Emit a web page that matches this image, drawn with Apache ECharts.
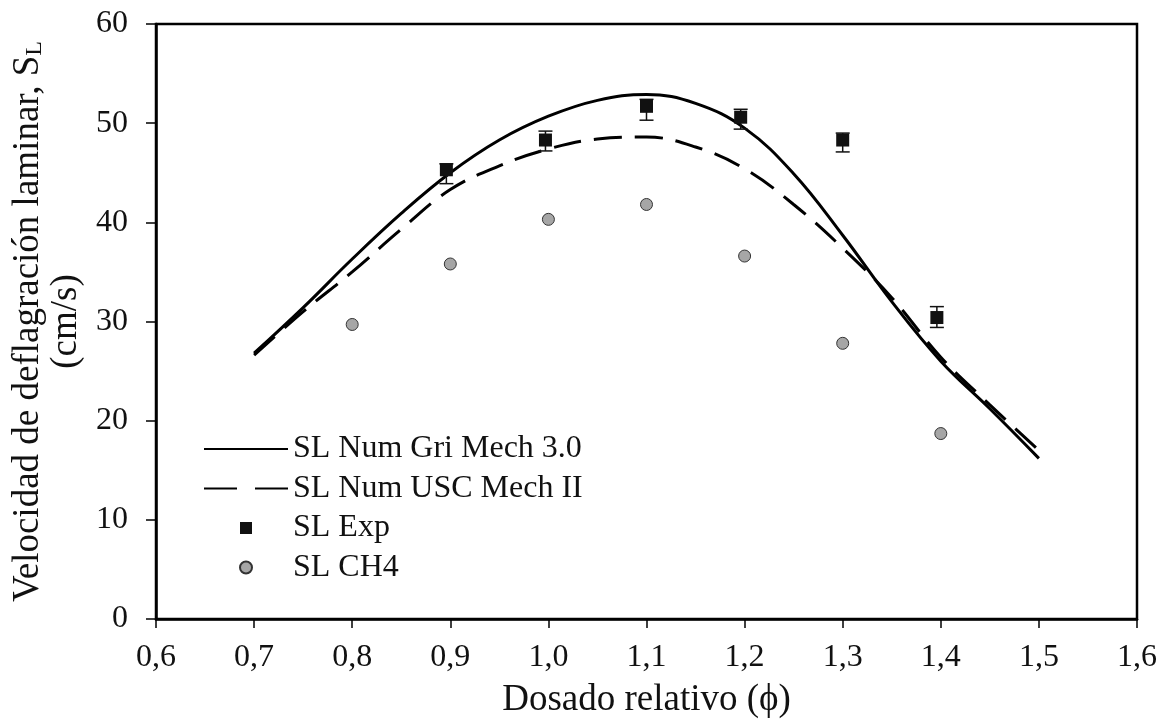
<!DOCTYPE html>
<html>
<head>
<meta charset="utf-8">
<script src="https://cdn.jsdelivr.net/npm/echarts@6/dist/echarts.min.js"></script>
<style>
  html, body { margin: 0; padding: 0; background: #fff; }
  #chart { width: 1163px; height: 726px; }
</style>
</head>
<body>
<div id="chart"></div>
<script>
// datos
const phiModel = [0.70, 0.75, 0.80, 0.85, 0.90, 0.95, 1.00, 1.05, 1.10, 1.15, 1.20, 1.25, 1.30, 1.35, 1.40, 1.45, 1.50]
const slGri = [26.8, 31.4, 36.3, 40.9, 45.0, 48.3, 50.7, 52.3, 52.9, 52.0, 49.5, 44.9, 38.7, 32.0, 26.0, 21.2, 16.2]
const slUsc = [26.6, 31.0, 35.0, 39.3, 43.3, 45.7, 47.4, 48.4, 48.6, 47.6, 45.4, 41.8, 37.4, 32.4, 26.4, 21.6, 17.0]

const phiExp = [0.896, 0.997, 1.100, 1.196, 1.300, 1.396]
const slExp = [45.3, 48.3, 51.7, 50.6, 48.3, 30.4]
const slExpLo = [43.9, 47.2, 50.3, 49.4, 47.1, 29.4]
const slExpHi = [45.9, 49.2, 52.4, 51.4, 49.0, 31.5]

const phiCh4 = [0.8, 0.9, 1.0, 1.1, 1.2, 1.3, 1.4]
const slCh4 = [29.7, 35.8, 40.3, 41.8, 36.6, 27.8, 18.7]

const serif = 'Liberation Serif'

;(function () {
  let mychart = echarts.init(document.getElementById('chart'))
  let zip = (xs, ys) => xs.map((x, i) => [x, ys[i]])
  let option = {
    animation: false,
    grid: {
      left: 156, right: 26, top: 24, bottom: 107,
      show: true, borderColor: '#000', borderWidth: 2.5,
      outerBoundsMode: 'none'
    },
    legend: {
      orient: 'vertical',
      left: 203,
      top: 431,
      padding: 0,
      itemWidth: 84,
      itemHeight: 12,
      itemGap: 3.5,
      textStyle: { fontFamily: serif, fontSize: 32, lineHeight: 36, color: '#111' },
      data: [
        { name: 'SL Num Gri Mech 3.0', itemStyle: { opacity: 0 } },
        { name: 'SL Num USC Mech II', itemStyle: { opacity: 0 }, lineStyle: { type: [33, 18] } },
        { name: 'SL Exp', icon: 'path://M0,0H10V10H0Z' },
        { name: 'SL CH4', icon: 'circle' }
      ]
    },
    xAxis: {
      type: 'value',
      min: 0.6,
      max: 1.6,
      interval: 0.1,
      name: 'Dosado relativo (ϕ)',
      nameLocation: 'middle',
      nameGap: 63,
      nameTextStyle: { fontFamily: serif, fontSize: 37, color: '#111' },
      axisLine: { lineStyle: { color: '#000', width: 2.5 } },
      axisTick: { show: true, inside: false, length: 9, lineStyle: { color: '#000', width: 1.5 } },
      axisLabel: {
        fontFamily: serif, fontSize: 32, color: '#111', margin: 23,
        formatter: v => v.toFixed(1).replace('.', ',')
      },
      splitLine: { show: false }
    },
    yAxis: {
      type: 'value',
      min: 0,
      max: 60,
      interval: 10,
      name: 'Velocidad de deflagración laminar, S{sub|L}\n(cm/s)',
      nameLocation: 'middle',
      nameRotate: 90,
      nameGap: 69,
      nameTextStyle: {
        fontFamily: serif, fontSize: 37, lineHeight: 38, color: '#111',
        rich: { sub: { fontFamily: serif, fontSize: 24, verticalAlign: 'bottom', padding: [14, 0, 0, 0], color: '#111' } }
      },
      axisLine: { show: true, lineStyle: { color: '#000', width: 2.5 } },
      axisTick: { show: true, inside: false, length: 10, lineStyle: { color: '#000', width: 1.5 } },
      axisLabel: { fontFamily: serif, fontSize: 32, color: '#111', margin: 28 },
      splitLine: { show: false }
    },
    series: [
      {
        name: 'SL Num Gri Mech 3.0',
        type: 'line',
        smooth: 0.4,
        symbol: 'none',
        lineStyle: { color: '#000', width: 3 },
        itemStyle: { color: '#000' },
        data: zip(phiModel, slGri),
        z: 3
      },
      {
        name: 'SL Num USC Mech II',
        type: 'line',
        smooth: 0.4,
        symbol: 'none',
        lineStyle: { color: '#000', width: 3, type: [28, 13] },
        itemStyle: { color: '#000' },
        data: zip(phiModel, slUsc),
        z: 3
      },
      {
        name: 'barras',
        type: 'custom',
        data: phiExp.map((x, i) => [x, slExpLo[i], slExpHi[i]]),
        renderItem: function (params, api) {
          let lo = api.coord([api.value(0), api.value(1)])
          let hi = api.coord([api.value(0), api.value(2)])
          let half = 7
          let st = { stroke: '#111', lineWidth: 1.5 }
          return {
            type: 'group',
            children: [
              { type: 'line', shape: { x1: lo[0], y1: lo[1], x2: hi[0], y2: hi[1] }, style: st },
              { type: 'line', shape: { x1: lo[0] - half, y1: lo[1], x2: lo[0] + half, y2: lo[1] }, style: st },
              { type: 'line', shape: { x1: hi[0] - half, y1: hi[1], x2: hi[0] + half, y2: hi[1] }, style: st }
            ]
          }
        },
        z: 4
      },
      {
        name: 'SL Exp',
        type: 'scatter',
        symbol: 'rect',
        symbolSize: 13,
        itemStyle: { color: '#111', opacity: 1 },
        data: zip(phiExp, slExp),
        z: 5
      },
      {
        name: 'SL CH4',
        type: 'scatter',
        symbol: 'circle',
        symbolSize: 12,
        itemStyle: { color: '#a6a6a6', borderColor: '#333', borderWidth: 1, opacity: 1 },
        data: zip(phiCh4, slCh4),
        z: 5
      }
    ]
  }
  mychart.setOption(option)
  window.addEventListener('resize', function () {
    mychart.resize()
  })
})();
</script>
</body>
</html>
